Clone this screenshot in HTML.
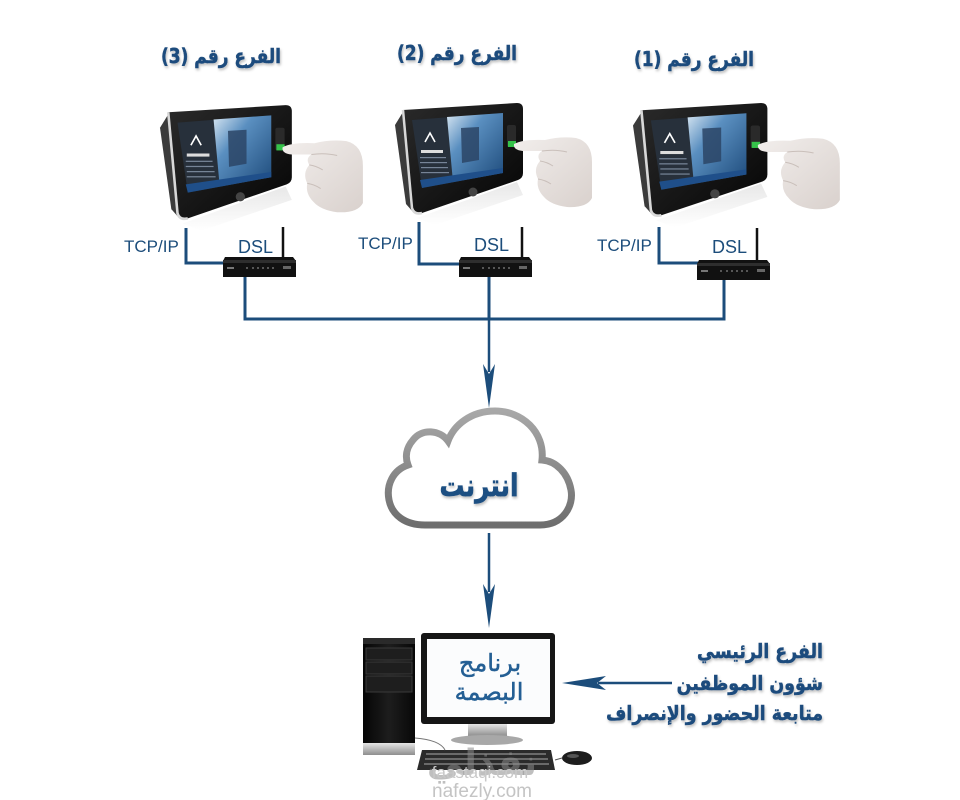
<!DOCTYPE html>
<html><head><meta charset="utf-8"><style>
html,body{margin:0;padding:0;background:#fff;}
body{width:960px;height:800px;overflow:hidden;position:relative;}
svg{position:absolute;left:0;top:0;}
.ar{font-family:"DejaVu Sans",sans-serif;font-weight:bold;}
.lat{font-family:"Liberation Sans",Arial,sans-serif;}
</style></head><body>
<svg width="960" height="800" viewBox="0 0 960 800" xmlns="http://www.w3.org/2000/svg">
<defs>
  <linearGradient id="scrR" x1="0" y1="0" x2="1" y2="1">
    <stop offset="0" stop-color="#d7e6f2"/><stop offset="0.35" stop-color="#5a8fc0"/><stop offset="1" stop-color="#1d4a7a"/>
  </linearGradient>
  <linearGradient id="body" x1="0" y1="0" x2="1" y2="1">
    <stop offset="0" stop-color="#2a2a2a"/><stop offset="1" stop-color="#050505"/>
  </linearGradient>
  <linearGradient id="hand" x1="0" y1="0" x2="1" y2="1">
    <stop offset="0" stop-color="#f2eeec"/><stop offset="1" stop-color="#d9d1cd"/>
  </linearGradient>
  <linearGradient id="refl" x1="0" y1="0" x2="0" y2="1">
    <stop offset="0" stop-color="#d8d8d8"/><stop offset="1" stop-color="#ffffff"/>
  </linearGradient>
  <linearGradient id="cloudS" x1="0" y1="0" x2="0" y2="1">
    <stop offset="0" stop-color="#a8a8a8"/><stop offset="1" stop-color="#6e6e6e"/>
  </linearGradient>
  <linearGradient id="silver" x1="0" y1="0" x2="0" y2="1">
    <stop offset="0" stop-color="#e6e6e6"/><stop offset="1" stop-color="#8e8e8e"/>
  </linearGradient>
  <linearGradient id="tower" x1="0" y1="0" x2="1" y2="0">
    <stop offset="0" stop-color="#050505"/><stop offset="0.5" stop-color="#1d1d1d"/><stop offset="1" stop-color="#080808"/>
  </linearGradient>
  <filter id="sh" x="-10%" y="-20%" width="120%" height="150%">
    <feDropShadow dx="1" dy="2" stdDeviation="1.2" flood-color="#000" flood-opacity="0.25"/>
  </filter>
  <g id="device">
    <polygon points="122,82 128,95 40,125 22,118" fill="url(#refl)" opacity="0.6"/>
    <polygon points="0,25 8,12 18,112 11,104" fill="#3b3b3b"/>
    <path d="M8,10 L122,3 Q128,3 128,9 L128,73 Q128,78 123,80 L27,113 Q19,115 17,108 Z" fill="url(#body)"/>
    <path d="M8,10 L17,108 Q19,115 27,113" fill="none" stroke="#d8d8d8" stroke-width="2.5"/>
    <polygon points="17,20 108,13 108,73 27,88" fill="#27303b"/>
    <polygon points="52,17 108,13 108,73 58,82" fill="url(#scrR)"/>
    <polygon points="66,28 84,27 84,60 67,63" fill="#2c4566" opacity="0.85"/>
    <path d="M30,42 L35,33 L40,42" fill="none" stroke="#fff" stroke-width="1.6"/>
    <rect x="26" y="50" width="22" height="3" fill="#ddd"/>
    <g fill="#8a9aae" opacity="0.8">
      <rect x="25" y="57" width="26" height="1.2"/><rect x="25" y="62" width="27" height="1.2"/><rect x="26" y="67" width="27" height="1.2"/><rect x="26" y="72" width="28" height="1.2"/>
    </g>
    <polygon points="25,80 108,68 108,73 27,88" fill="#1f4f8a"/>
    <rect x="112" y="25" width="9" height="22" rx="2" fill="#2a2a2a"/>
    <rect x="113" y="41" width="8" height="6" fill="#35c24a"/>
    <circle cx="78" cy="92" r="4.5" fill="#444"/>
    <path d="M119,44 Q128,39 150,40 Q166,36 181,38 Q197,42 197,62 L197,98 Q192,108 172,107 Q156,105 149,97 Q141,89 143,79 Q138,69 145,61 Q141,55 147,51 L128,51 Q118,50 119,44 Z" fill="url(#hand)"/>
    <path d="M147,51 Q160,49 172,52 M145,61 Q152,62 158,66 M143,79 Q150,80 156,84" fill="none" stroke="#c9bfba" stroke-width="1"/>
  </g>
  <g id="router">
    <polygon points="2,0 70,0 73,4 73,20 0,20 0,4" fill="#111"/>
    <rect x="0" y="3" width="73" height="3" fill="#2e2e2e"/>
    <rect x="4" y="10" width="7" height="2" fill="#777"/>
    <g fill="#888"><circle cx="24" cy="11" r="0.9"/><circle cx="30" cy="11" r="0.9"/><circle cx="35" cy="11" r="0.9"/><circle cx="40" cy="11" r="0.9"/><circle cx="45" cy="11" r="0.9"/><circle cx="50" cy="11" r="0.9"/></g>
    <rect x="60" y="9" width="8" height="3" fill="#666"/>
  </g>
</defs>

<!-- Titles -->
<g class="ar" font-size="20" fill="#1f4c7d" stroke="#1f4c7d" stroke-width="0.5" text-anchor="middle" filter="url(#sh)">
  <text transform="translate(221,63) scale(0.85,1)" x="0" y="0" direction="rtl">الفرع رقم (3)</text>
  <text transform="translate(457,60) scale(0.85,1)" x="0" y="0" direction="rtl">الفرع رقم (2)</text>
  <text transform="translate(694,66) scale(0.85,1)" x="0" y="0" direction="rtl">الفرع رقم (1)</text>
</g>

<!-- Devices -->
<use href="#device" transform="translate(160,102) scale(1.03)"/>
<use href="#device" transform="translate(395,100)"/>
<use href="#device" transform="translate(633,100) scale(1.05,1.02)"/>

<!-- Connectors -->
<g fill="none" stroke="#1c4d7b" stroke-width="3">
  <polyline points="186,228 186,263 226,263"/>
  <polyline points="419,222 419,264 462,264"/>
  <polyline points="659,227 659,263 700,263"/>
  <polyline points="245,276 245,319 724,319 724,277"/>
  <line x1="489" y1="276" x2="489" y2="319"/>
</g>

<!-- Antennas -->
<g stroke="#111" stroke-width="2.5">
  <line x1="283" y1="227" x2="283" y2="260"/>
  <line x1="522" y1="227" x2="522" y2="260"/>
  <line x1="757" y1="228" x2="757" y2="262"/>
</g>
<!-- Routers -->
<use href="#router" transform="translate(223,257)"/>
<use href="#router" transform="translate(459,257)"/>
<use href="#router" transform="translate(697,260)"/>

<!-- Labels -->
<g class="lat" font-size="17" fill="#1c4d7b">
  <text x="124" y="252">TCP/IP</text>
  <text x="358" y="249">TCP/IP</text>
  <text x="597" y="251">TCP/IP</text>
  <text x="238" y="253" font-size="18">DSL</text>
  <text x="474" y="251" font-size="18">DSL</text>
  <text x="712" y="253" font-size="18">DSL</text>
</g>

<!-- Arrow 1 -->
<line x1="489" y1="319" x2="489" y2="372" stroke="#1c4d7b" stroke-width="2.5"/>
<polygon points="489,408 483,364 489,374 495,364" fill="#1c4d7b"/>

<!-- Cloud -->
<path d="M425,525 L540,525 C563,525 574,506 571,490 C568,473 556,461 542,460 C545,432 522,411 495,411 C471,411 454,425 448,441 C440,430 422,428 413,440 C406,448 405,457 408,465 C393,470 386,485 389,500 C392,515 405,525 425,525 Z" fill="#fff" stroke="url(#cloudS)" stroke-width="7"/>
<text class="ar" transform="translate(479,496) scale(0.8,1)" x="0" y="0" font-size="31" fill="#1d4f82" stroke="#1d4f82" stroke-width="0.7" text-anchor="middle" direction="rtl" filter="url(#sh)">انترنت</text>

<!-- Arrow 2 -->
<line x1="489" y1="533" x2="489" y2="592" stroke="#1c4d7b" stroke-width="2.5"/>
<polygon points="489,628 483,584 489,594 495,584" fill="#1c4d7b"/>

<!-- Computer tower -->
<rect x="363" y="638" width="52" height="106" fill="url(#tower)"/>
<rect x="363" y="638" width="52" height="6" fill="#2a2a2a"/>
<g fill="#1e1e1e" stroke="#3a3a3a" stroke-width="1">
  <rect x="366" y="648" width="46" height="12"/>
  <rect x="366" y="662" width="46" height="12"/>
  <rect x="366" y="676" width="46" height="16"/>
</g>
<rect x="363" y="743" width="52" height="12" fill="url(#silver)"/>
<!-- monitor -->
<rect x="421" y="633" width="134" height="91" rx="3" fill="#161616"/>
<rect x="427" y="639" width="123" height="78" fill="#fbfcfd"/>
<rect x="468" y="724" width="39" height="12" fill="url(#silver)"/>
<ellipse cx="487" cy="740" rx="36" ry="5" fill="#a8a8a8"/>
<!-- keyboard -->
<polygon points="422,750 551,750 555,770 417,770" fill="#2b2b2b"/>
<g fill="#6a6a6a">
  <rect x="426" y="753" width="120" height="2"/><rect x="425" y="758" width="123" height="2"/><rect x="424" y="763" width="125" height="2"/>
</g>
<path d="M415,738 Q440,740 445,750" fill="none" stroke="#777" stroke-width="1"/>
<path d="M555,760 L562,758" stroke="#555" stroke-width="1"/>
<ellipse cx="577" cy="758" rx="15" ry="7" fill="#1d1d1d"/>
<ellipse cx="573" cy="756" rx="6" ry="2" fill="#555"/>

<!-- Screen text -->
<g class="ar" font-size="24" fill="#245f94" stroke="#245f94" stroke-width="0.5" text-anchor="middle" style="font-weight:normal">
  <text x="490" y="671" direction="rtl">برنامج</text>
  <text x="489" y="700" direction="rtl">البصمة</text>
</g>

<!-- Watermark -->
<text class="ar" x="482" y="775" font-size="36" fill="#8a8a8a" fill-opacity="0.55" text-anchor="middle" direction="rtl">نفذلي</text>
<text class="lat" x="480" y="778" font-size="17" fill="#c8c8c8" text-anchor="middle">faastaqi.com</text>
<text class="lat" x="482" y="797" font-size="19" fill="#c4c4c4" text-anchor="middle">nafezly.com</text>

<!-- Right arrow -->
<line x1="598" y1="683" x2="672" y2="683" stroke="#1c4d7b" stroke-width="2.5"/>
<polygon points="562,683 606,676 597,683 606,690" fill="#1c4d7b"/>

<!-- Right text -->
<g class="ar" font-size="20" fill="#1f4c7d" stroke="#1f4c7d" stroke-width="0.5" filter="url(#sh)">
  <text transform="translate(823,658) scale(0.87,1)" x="0" y="0" direction="rtl" text-anchor="start">الفرع الرئيسي</text>
  <text transform="translate(823,690) scale(0.87,1)" x="0" y="0" direction="rtl" text-anchor="start">شؤون الموظفين</text>
  <text transform="translate(823,720) scale(0.87,1)" x="0" y="0" direction="rtl" text-anchor="start">متابعة الحضور والإنصراف</text>
</g>
</svg>
</body></html>
